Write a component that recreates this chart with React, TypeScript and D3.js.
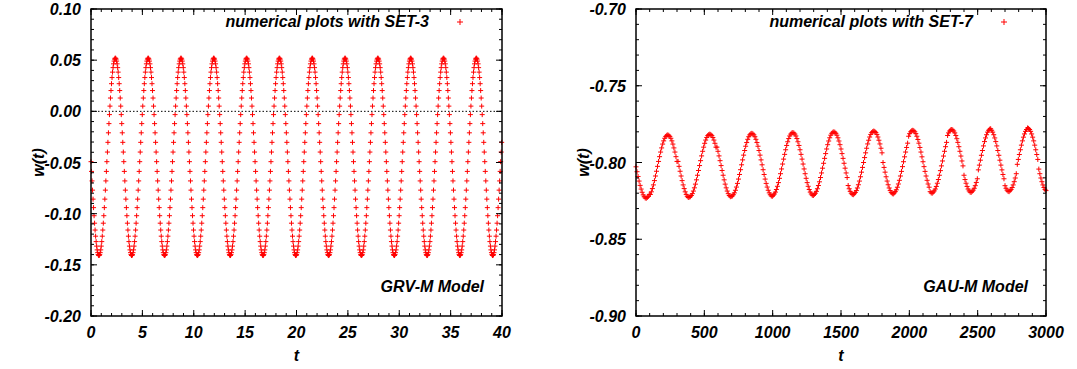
import React from "react";
import * as d3 from "d3";

// ---------- data ----------
// SET-3 (GRV-M model): w(t) sampled every SET3_T_STEP starting at t = 0
const SET3_T_STEP = 0.0499;
const SET3_W: number[] = [
-.0492,-.0587,-.0680,-.0770,-.0858,-.0941,-.1020,-.1093,-.1160,-.1220,-.1273,-.1317,-.1354,-.1381,-.1400,-.1409,-.1409,-.1400,-.1381,-.1354,-.1317,-.1273,-.1220,-.1160,-.1093,-.1020,-.0941,-.0858,-.0770,-.0680,-.0587,-.0492,-.0398,-.0303,-.0210,-.0120,-.0032,.0051,.0130,.0203,.0270,.0330,.0383,.0427,.0464,.0491,.0510,.0519,.0519,.0510,.0491,.0464,.0427,.0383,.0330,.0270,.0203,.0130,.0051,-.0032,-.0120,-.0210,-.0303,-.0398,
-.0492,-.0587,-.0680,-.0770,-.0858,-.0941,-.1020,-.1093,-.1160,-.1220,-.1273,-.1317,-.1354,-.1381,-.1400,-.1409,-.1409,-.1400,-.1381,-.1354,-.1317,-.1273,-.1220,-.1160,-.1093,-.1020,-.0941,-.0858,-.0770,-.0680,-.0587,-.0492,-.0398,-.0303,-.0210,-.0120,-.0032,.0051,.0130,.0203,.0270,.0330,.0383,.0427,.0464,.0491,.0510,.0519,.0519,.0510,.0491,.0464,.0427,.0383,.0330,.0270,.0203,.0130,.0051,-.0032,-.0120,-.0210,-.0303,-.0398,
-.0492,-.0587,-.0680,-.0770,-.0858,-.0941,-.1020,-.1093,-.1160,-.1220,-.1273,-.1317,-.1354,-.1381,-.1400,-.1409,-.1409,-.1400,-.1381,-.1354,-.1317,-.1273,-.1220,-.1160,-.1093,-.1020,-.0941,-.0858,-.0770,-.0680,-.0587,-.0492,-.0398,-.0303,-.0210,-.0120,-.0032,.0051,.0130,.0203,.0270,.0330,.0383,.0427,.0464,.0491,.0510,.0519,.0519,.0510,.0491,.0464,.0427,.0383,.0330,.0270,.0203,.0130,.0051,-.0032,-.0120,-.0210,-.0303,-.0398,
-.0492,-.0587,-.0680,-.0770,-.0858,-.0941,-.1020,-.1093,-.1160,-.1220,-.1273,-.1317,-.1354,-.1381,-.1400,-.1409,-.1409,-.1400,-.1381,-.1354,-.1317,-.1273,-.1220,-.1160,-.1093,-.1020,-.0941,-.0858,-.0770,-.0680,-.0587,-.0492,-.0398,-.0303,-.0210,-.0120,-.0032,.0051,.0130,.0203,.0270,.0330,.0383,.0427,.0464,.0491,.0510,.0519,.0519,.0510,.0491,.0464,.0427,.0383,.0330,.0270,.0203,.0130,.0051,-.0032,-.0120,-.0210,-.0303,-.0398,
-.0492,-.0587,-.0680,-.0770,-.0858,-.0941,-.1020,-.1093,-.1160,-.1220,-.1273,-.1317,-.1354,-.1381,-.1400,-.1409,-.1409,-.1400,-.1381,-.1354,-.1317,-.1273,-.1220,-.1160,-.1093,-.1020,-.0941,-.0858,-.0770,-.0680,-.0587,-.0492,-.0398,-.0303,-.0210,-.0120,-.0032,.0051,.0130,.0203,.0270,.0330,.0383,.0427,.0464,.0491,.0510,.0519,.0519,.0510,.0491,.0464,.0427,.0383,.0330,.0270,.0203,.0130,.0051,-.0032,-.0120,-.0210,-.0303,-.0398,
-.0492,-.0587,-.0680,-.0770,-.0858,-.0941,-.1020,-.1093,-.1160,-.1220,-.1273,-.1317,-.1354,-.1381,-.1400,-.1409,-.1409,-.1400,-.1381,-.1354,-.1317,-.1273,-.1220,-.1160,-.1093,-.1020,-.0941,-.0858,-.0770,-.0680,-.0587,-.0492,-.0398,-.0303,-.0210,-.0120,-.0032,.0051,.0130,.0203,.0270,.0330,.0383,.0427,.0464,.0491,.0510,.0519,.0519,.0510,.0491,.0464,.0427,.0383,.0330,.0270,.0203,.0130,.0051,-.0032,-.0120,-.0210,-.0303,-.0398,
-.0492,-.0587,-.0680,-.0770,-.0858,-.0941,-.1020,-.1093,-.1160,-.1220,-.1273,-.1317,-.1354,-.1381,-.1400,-.1409,-.1409,-.1400,-.1381,-.1354,-.1317,-.1273,-.1220,-.1160,-.1093,-.1020,-.0941,-.0858,-.0770,-.0680,-.0587,-.0492,-.0398,-.0303,-.0210,-.0120,-.0032,.0051,.0130,.0203,.0270,.0330,.0383,.0427,.0464,.0491,.0510,.0519,.0519,.0510,.0491,.0464,.0427,.0383,.0330,.0270,.0203,.0130,.0051,-.0032,-.0120,-.0210,-.0303,-.0398,
-.0492,-.0587,-.0680,-.0770,-.0858,-.0941,-.1020,-.1093,-.1160,-.1220,-.1273,-.1317,-.1354,-.1381,-.1400,-.1409,-.1409,-.1400,-.1381,-.1354,-.1317,-.1273,-.1220,-.1160,-.1093,-.1020,-.0941,-.0858,-.0770,-.0680,-.0587,-.0492,-.0398,-.0303,-.0210,-.0120,-.0032,.0051,.0130,.0203,.0270,.0330,.0383,.0427,.0464,.0491,.0510,.0519,.0519,.0510,.0491,.0464,.0427,.0383,.0330,.0270,.0203,.0130,.0051,-.0032,-.0120,-.0210,-.0303,-.0398,
-.0492,-.0587,-.0680,-.0770,-.0858,-.0941,-.1020,-.1093,-.1160,-.1220,-.1273,-.1317,-.1354,-.1381,-.1400,-.1409,-.1409,-.1400,-.1381,-.1354,-.1317,-.1273,-.1220,-.1160,-.1093,-.1020,-.0941,-.0858,-.0770,-.0680,-.0587,-.0492,-.0398,-.0303,-.0210,-.0120,-.0032,.0051,.0130,.0203,.0270,.0330,.0383,.0427,.0464,.0491,.0510,.0519,.0519,.0510,.0491,.0464,.0427,.0383,.0330,.0270,.0203,.0130,.0051,-.0032,-.0120,-.0210,-.0303,-.0398,
-.0492,-.0587,-.0680,-.0770,-.0858,-.0941,-.1020,-.1093,-.1160,-.1220,-.1273,-.1317,-.1354,-.1381,-.1400,-.1409,-.1409,-.1400,-.1381,-.1354,-.1317,-.1273,-.1220,-.1160,-.1093,-.1020,-.0941,-.0858,-.0770,-.0680,-.0587,-.0492,-.0398,-.0303,-.0210,-.0120,-.0032,.0051,.0130,.0203,.0270,.0330,.0383,.0427,.0464,.0491,.0510,.0519,.0519,.0510,.0491,.0464,.0427,.0383,.0330,.0270,.0203,.0130,.0051,-.0032,-.0120,-.0210,-.0303,-.0398,
-.0492,-.0587,-.0680,-.0770,-.0858,-.0941,-.1020,-.1093,-.1160,-.1220,-.1273,-.1317,-.1354,-.1381,-.1400,-.1409,-.1409,-.1400,-.1381,-.1354,-.1317,-.1273,-.1220,-.1160,-.1093,-.1020,-.0941,-.0858,-.0770,-.0680,-.0587,-.0492,-.0398,-.0303,-.0210,-.0120,-.0032,.0051,.0130,.0203,.0270,.0330,.0383,.0427,.0464,.0491,.0510,.0519,.0519,.0510,.0491,.0464,.0427,.0383,.0330,.0270,.0203,.0130,.0051,-.0032,-.0120,-.0210,-.0303,-.0398,
-.0492,-.0587,-.0680,-.0770,-.0858,-.0941,-.1020,-.1093,-.1160,-.1220,-.1273,-.1317,-.1354,-.1381,-.1400,-.1409,-.1409,-.1400,-.1381,-.1354,-.1317,-.1273,-.1220,-.1160,-.1093,-.1020,-.0941,-.0858,-.0770,-.0680,-.0587,-.0492,-.0398,-.0303,-.0210,-.0120,-.0032,.0051,.0130,.0203,.0270,.0330,.0383,.0427,.0464,.0491,.0510,.0519,.0519,.0510,.0491,.0464,.0427,.0383,.0330,.0270,.0203,.0130,.0051,-.0032,-.0120,-.0210,-.0303,-.0398,
-.0492,-.0587,-.0680,-.0770,-.0858,-.0941,-.1020,-.1093,-.1160,-.1220,-.1273,-.1317,-.1354,-.1381,-.1400,-.1409,-.1409,-.1400,-.1381,-.1354,-.1317,-.1273,-.1220,-.1160,-.1093,-.1020,-.0941,-.0858,-.0770,-.0680,-.0587,-.0492,-.0398,-.0303
];

// SET-7 (GAU-M model): w(t) sampled every SET7_T_STEP starting at t = 0
const SET7_T_STEP = 7.5;
const SET7_W: number[] = [
-.8028,-.8060,-.8091,-.8121,-.8149,-.8173,-.8194,-.8211,-.8223,-.8231,-.8233,
-.8228,-.8220,-.8208,-.8208,-.8191,-.8170,-.8146,-.8118,-.8088,-.8057,-.8025,-.7993,-.7962,-.7932,-.7905,-.7880,-.7859,-.7842,-.7830,-.7823,-.7820,-.7823,-.7830,-.7842,-.7859,-.7880,-.7905,-.7932,-.7962,-.7993,-.7993,-.8025,-.8057,-.8088,-.8118,-.8146,-.8170,-.8191,-.8208,-.8220,-.8228,
-.8225,-.8223,-.8215,-.8203,-.8186,-.8165,-.8141,-.8113,-.8083,-.8052,-.8020,-.7988,-.7957,-.7927,-.7900,-.7875,-.7854,-.7837,-.7825,-.7818,-.7815,-.7818,-.7825,-.7837,-.7854,-.7875,-.7900,-.7900,-.7927,-.7957,-.7988,-.8020,-.8052,-.8083,-.8113,-.8141,-.8165,-.8186,-.8203,-.8215,-.8223,
-.8220,-.8218,-.8210,-.8198,-.8181,-.8160,-.8136,-.8108,-.8078,-.8047,-.8015,-.7983,-.7952,-.7922,-.7894,-.7870,-.7849,-.7832,-.7820,-.7813,-.7810,-.7813,-.7820,-.7832,-.7849,-.7870,-.7894,-.7922,-.7952,-.7983,-.8015,-.8047,-.8078,-.8108,-.8136,-.8160,-.8181,-.8198,-.8210,-.8218,-.8220,
-.8213,-.8205,-.8193,-.8176,-.8155,-.8131,-.8103,-.8073,-.8042,-.8010,-.7978,-.7947,-.7917,-.7889,-.7865,-.7844,-.7827,-.7815,-.7808,-.7805,-.7808,-.7815,-.7827,-.7844,-.7865,-.7889,-.7917,-.7947,-.7978,-.8010,-.8042,-.8073,-.8103,-.8131,-.8155,-.8176,-.8193,-.8205,-.8213,-.8215,
-.8208,-.8200,-.8188,-.8171,-.8150,-.8126,-.8098,-.8068,-.8037,-.8005,-.7973,-.7942,-.7912,-.7884,-.7860,-.7839,-.7822,-.7810,-.7803,-.7800,-.7803,-.7810,-.7822,-.7839,-.7860,-.7884,-.7912,-.7942,-.7973,-.8005,-.8037,-.8068,-.8098,-.8150,-.8171,-.8188,-.8200,-.8208,-.8210,
-.8203,-.8195,-.8183,-.8166,-.8145,-.8121,-.8093,-.8063,-.8032,-.8000,-.7968,-.7937,-.7907,-.7879,-.7855,-.7834,-.7817,-.7805,-.7798,-.7795,-.7798,-.7805,-.7817,-.7834,-.7855,-.7879,-.7907,-.7937,-.8000,-.8032,-.8063,-.8093,-.8121,-.8145,-.8166,-.8183,-.8195,-.8203,-.8205,
-.8198,-.8190,-.8178,-.8161,-.8140,-.8116,-.8088,-.8058,-.8027,-.7995,-.7963,-.7932,-.7902,-.7874,-.7829,-.7812,-.7800,-.7793,-.7790,-.7793,-.7800,-.7812,-.7829,-.7850,-.7874,-.7902,-.7932,-.7963,-.7995,-.8027,-.8058,-.8088,-.8116,-.8140,-.8161,-.8190,-.8198,-.8200,
-.8193,-.8185,-.8173,-.8156,-.8135,-.8111,-.8083,-.8053,-.8022,-.7990,-.7958,-.7927,-.7897,-.7869,-.7824,-.7807,-.7795,-.7788,-.7785,-.7788,-.7795,-.7807,-.7824,-.7845,-.7869,-.7897,-.7927,-.7958,-.7990,-.8022,-.8083,-.8111,-.8135,-.8156,-.8173,-.8185,-.8193,-.8195,
-.8188,-.8180,-.8168,-.8151,-.8130,-.8106,-.8048,-.8017,-.7985,-.7953,-.7922,-.7892,-.7864,-.7840,-.7819,-.7802,-.7790,-.7783,-.7780,-.7790,-.7802,-.7819,-.7840,-.7864,-.7892,-.7922,-.7953,-.7985,-.8017,-.8048,-.8078,-.8106,-.8151,-.8168,-.8180,-.8188,-.8190,
-.8183,-.8175,-.8163,-.8146,-.8125,-.8101,-.8073,-.8012,-.7980,-.7948,-.7917,-.7887,-.7859,-.7835,-.7814,-.7797,-.7785,-.7775,-.7778,-.7785,-.7797,-.7814,-.7835,-.7859,-.7887,-.7917,-.7948,-.7980,-.8043,-.8073,-.8101,-.8125,-.8146,-.8163,-.8175,-.8183
];

const LEFT_X_TICKS = [0, 5, 10, 15, 20, 25, 30, 35, 40];
const LEFT_Y_TICKS = [-0.2, -0.15, -0.1, -0.05, 0, 0.05, 0.1];
const RIGHT_X_TICKS = [0, 500, 1000, 1500, 2000, 2500, 3000];
const RIGHT_Y_TICKS = [-0.9, -0.85, -0.8, -0.75, -0.7];

const LEFT_LEGEND = "numerical plots with SET-3";
const RIGHT_LEGEND = "numerical plots with SET-7";
const LEFT_MODEL = "GRV-M Model";
const RIGHT_MODEL = "GAU-M Model";

// ---------- drawing ----------
const FONT = '"Liberation Sans", Arial, Helvetica, sans-serif';
const RED = "#ff0000";

type PanelProps = {
  left: number; right: number; top: number; bottom: number;
  xDomain: [number, number]; yDomain: [number, number];
  xTicks: number[]; yTicks: number[];
  tStep: number; w: number[];
  legend: string; model: string; zeroLine: boolean;
};

function Panel(p: PanelProps) {
  const x = d3.scaleLinear().domain(p.xDomain).range([p.left, p.right]);
  const y = d3.scaleLinear().domain(p.yDomain).range([p.bottom, p.top]);
  const xStep = p.xTicks[1] - p.xTicks[0];
  const yStep = p.yTicks[1] - p.yTicks[0];
  const xMinor = d3.range(p.xDomain[0], p.xDomain[1] + xStep / 10, xStep / 5);
  const yMinor = d3.range(p.yDomain[0], p.yDomain[1] + yStep / 10, yStep / 5);
  const yFmt = (v: number) => (Math.abs(v) < 1e-9 ? 0 : v).toFixed(2);
  const arm = 2.5;
  const markers = p.w
    .map((v, i) => {
      const cx = x(i * p.tStep);
      const cy = y(v);
      return `M${(cx - arm).toFixed(2)},${cy.toFixed(2)}H${(cx + arm).toFixed(2)}M${cx.toFixed(2)},${(cy - arm).toFixed(2)}V${(cy + arm).toFixed(2)}`;
    })
    .join("");
  const major = 6, minor = 3;
  const textStyle = { fontFamily: FONT, fontWeight: 700, fontStyle: "italic" as const };
  const midX = (p.left + p.right) / 2;
  const midY = (p.top + p.bottom) / 2;
  return (
    <g>
      {p.zeroLine && (
        <line x1={p.left} x2={p.right} y1={y(0)} y2={y(0)} stroke="#000" strokeWidth={1} strokeDasharray="1.5,2" />
      )}
      <path d={markers} stroke={RED} strokeWidth={1} fill="none" />
      {/* ticks */}
      {xMinor.map((v, i) => (
        <g key={"xm" + i}>
          <line x1={x(v)} x2={x(v)} y1={p.bottom} y2={p.bottom - minor} stroke="#000" />
          <line x1={x(v)} x2={x(v)} y1={p.top} y2={p.top + minor} stroke="#000" />
        </g>
      ))}
      {yMinor.map((v, i) => (
        <g key={"ym" + i}>
          <line x1={p.left} x2={p.left + minor} y1={y(v)} y2={y(v)} stroke="#000" />
          <line x1={p.right} x2={p.right - minor} y1={y(v)} y2={y(v)} stroke="#000" />
        </g>
      ))}
      {p.xTicks.map((v, i) => (
        <g key={"xt" + i}>
          <line x1={x(v)} x2={x(v)} y1={p.bottom} y2={p.bottom - major} stroke="#000" />
          <line x1={x(v)} x2={x(v)} y1={p.top} y2={p.top + major} stroke="#000" />
          <text x={x(v)} y={p.bottom + 22} textAnchor="middle" fontSize={16} style={textStyle}>
            {String(v)}
          </text>
        </g>
      ))}
      {p.yTicks.map((v, i) => (
        <g key={"yt" + i}>
          <line x1={p.left} x2={p.left + major} y1={y(v)} y2={y(v)} stroke="#000" />
          <line x1={p.right} x2={p.right - major} y1={y(v)} y2={y(v)} stroke="#000" />
          <text x={p.left - 10} y={y(v) + 6} textAnchor="end" fontSize={16} style={textStyle}>
            {yFmt(v)}
          </text>
        </g>
      ))}
      <rect x={p.left} y={p.top} width={p.right - p.left} height={p.bottom - p.top} fill="none" stroke="#000" strokeWidth={1.5} />
      {/* axis titles */}
      <text transform={`translate(${p.left - 47},${midY}) rotate(-90)`} textAnchor="middle" fontSize={16} style={textStyle}>
        w(t)
      </text>
      <text x={midX} y={p.bottom + 45} textAnchor="middle" fontSize={16} style={textStyle}>
        t
      </text>
      {/* legend */}
      <text x={p.right - 73} y={p.top + 18} textAnchor="end" fontSize={16} style={textStyle}>
        {p.legend}
      </text>
      <path
        d={`M${p.right - 42 - 3},${p.top + 13}H${p.right - 42 + 3}M${p.right - 42},${p.top + 10}V${p.top + 16}`}
        stroke={RED}
        strokeWidth={1}
      />
      <text x={p.right - 18} y={p.bottom - 24} textAnchor="end" fontSize={16} style={textStyle}>
        {p.model}
      </text>
    </g>
  );
}

export default function App() {
  return (
    <svg width={1077} height={369} style={{ position: "absolute", left: 0, top: 0, background: "#fff" }}>
      <rect width={1077} height={369} fill="#fff" />
      <Panel
        left={91} right={502} top={9} bottom={316}
        xDomain={[0, 40]} yDomain={[-0.2, 0.1]}
        xTicks={LEFT_X_TICKS} yTicks={LEFT_Y_TICKS}
        tStep={SET3_T_STEP} w={SET3_W}
        legend={LEFT_LEGEND} model={LEFT_MODEL} zeroLine={true}
      />
      <Panel
        left={636} right={1046} top={9} bottom={316}
        xDomain={[0, 3000]} yDomain={[-0.9, -0.7]}
        xTicks={RIGHT_X_TICKS} yTicks={RIGHT_Y_TICKS}
        tStep={SET7_T_STEP} w={SET7_W}
        legend={RIGHT_LEGEND} model={RIGHT_MODEL} zeroLine={false}
      />
    </svg>
  );
}
